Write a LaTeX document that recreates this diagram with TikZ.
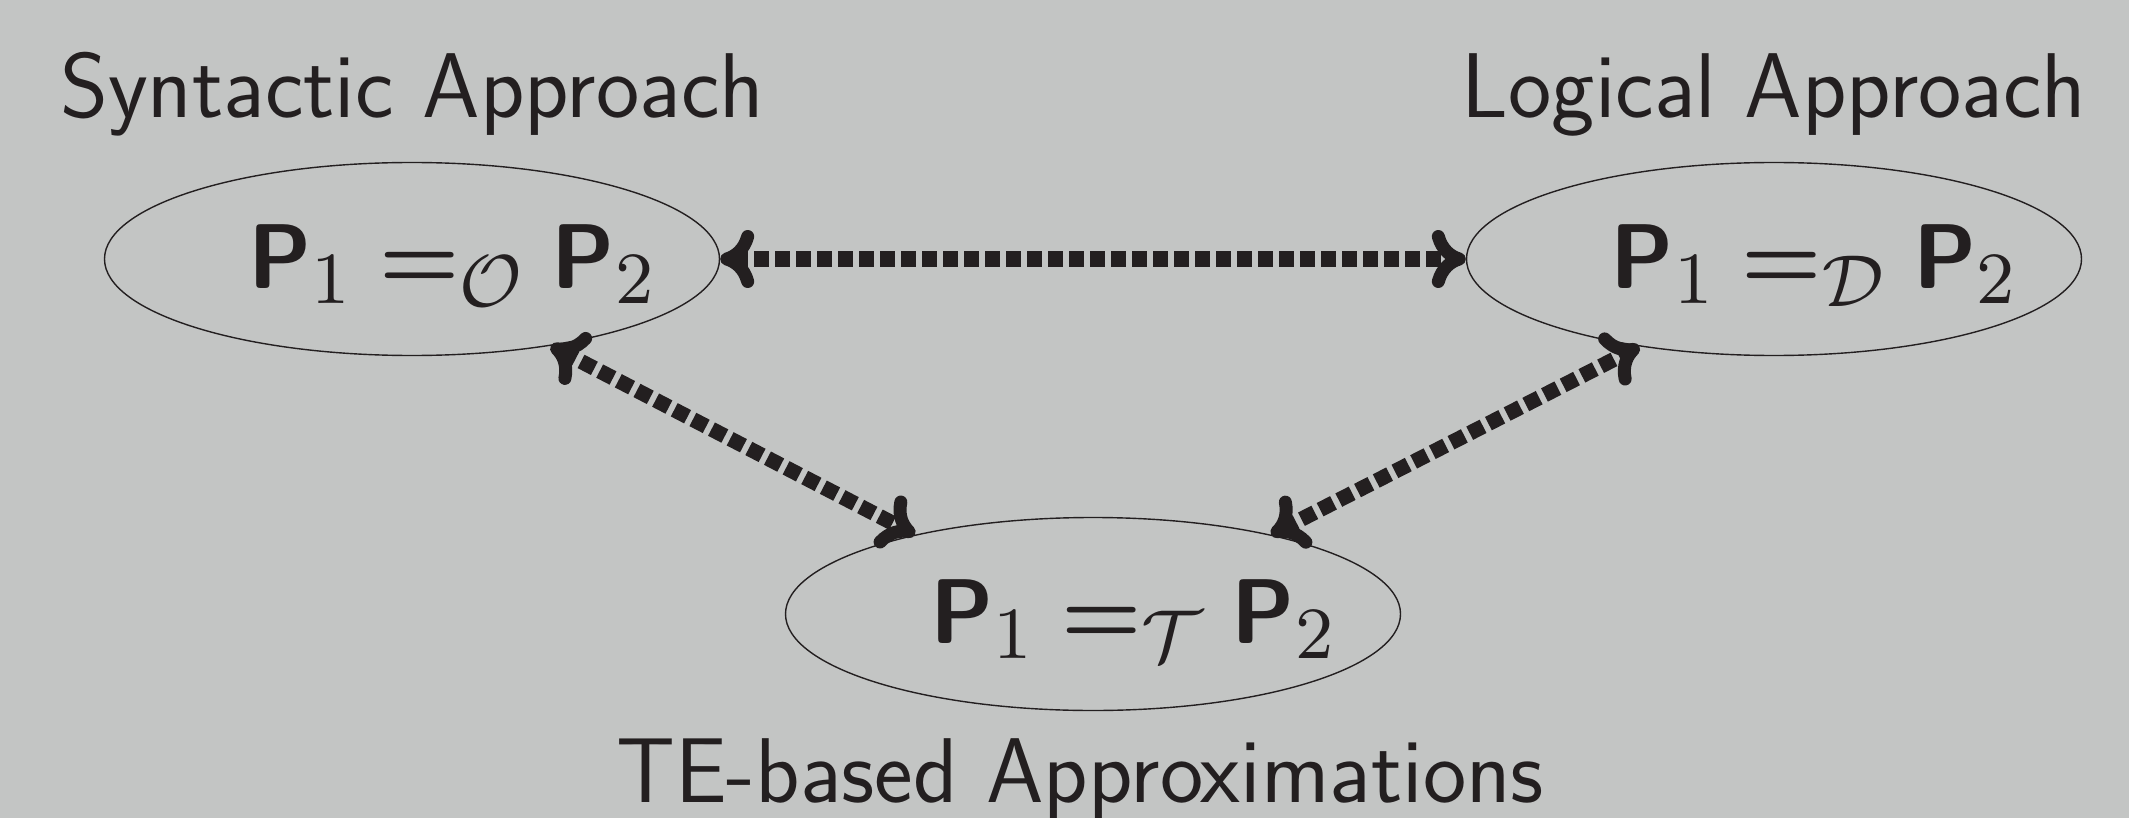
\documentclass[tikz,border=0pt]{standalone}
\usepackage{fix-cm}
\usepackage{graphicx}
\DeclareMathSizes{10}{10}{8}{6}
\usetikzlibrary{arrows.meta,shapes.geometric}
\definecolor{bg}{RGB}{195,197,196}
\definecolor{ink}{RGB}{35,31,32}
\newcommand{\bP}{\mbox{\sffamily\bfseries P}}
\newcommand{\beq}{\mathrel{\mbox{\boldmath$=$}}}
\newcommand{\fml}[1]{\scalebox{4.5}[4.6]{$\bP_1 \beq_{\mathcal{#1}} \bP_2$}}
\begin{document}
\begin{tikzpicture}[x=0.5pt,y=-0.5pt,
  ell/.style={draw=ink, line width=0.7pt, ellipse, minimum width=307.5pt, minimum height=96.5pt, inner sep=0pt},
  lbl/.style={anchor=base, inner sep=0pt, text=ink, font=\fontsize{46}{50}\selectfont\sffamily},
  formula/.style={anchor=base, inner sep=0pt, text=ink, font=\fontsize{10}{12}\selectfont},
  conn/.style={draw=ink, line width=7.5pt, dash pattern=on 7.5pt off 3pt,
    >={Computer Modern Rightarrow[length=17pt,width=29pt,line width=6.5pt]}, <->}]
\fill[bg] (0,0) rectangle (2129,818);
\useasboundingbox (0,0) rectangle (2129,818);
\node[ell] (L) at (412,259) {};
\node[ell] (R) at (1774,259) {};
\node[ell] (B) at (1093,614) {};
\node[formula] (fL) at (453,288) {\fml{O}};
\node[formula] (fR) at (1815,288) {\fml{D}};
\node[formula] (fB) at (1134,643) {\fml{T}};
\node[lbl] (tL) at (412,118) {Syntactic Approach};
\node[lbl] (tR) at (1774,118) {Logical Approach};
\node[lbl] (tB) at (1080,802) {TE-based Approximations};
\draw[conn] (L.east) -- (R.west);
\draw[conn] (L.-32.2) -- (B.156);
\draw[conn] (B.24) -- (R.-147.8);
\end{tikzpicture}
\end{document}
